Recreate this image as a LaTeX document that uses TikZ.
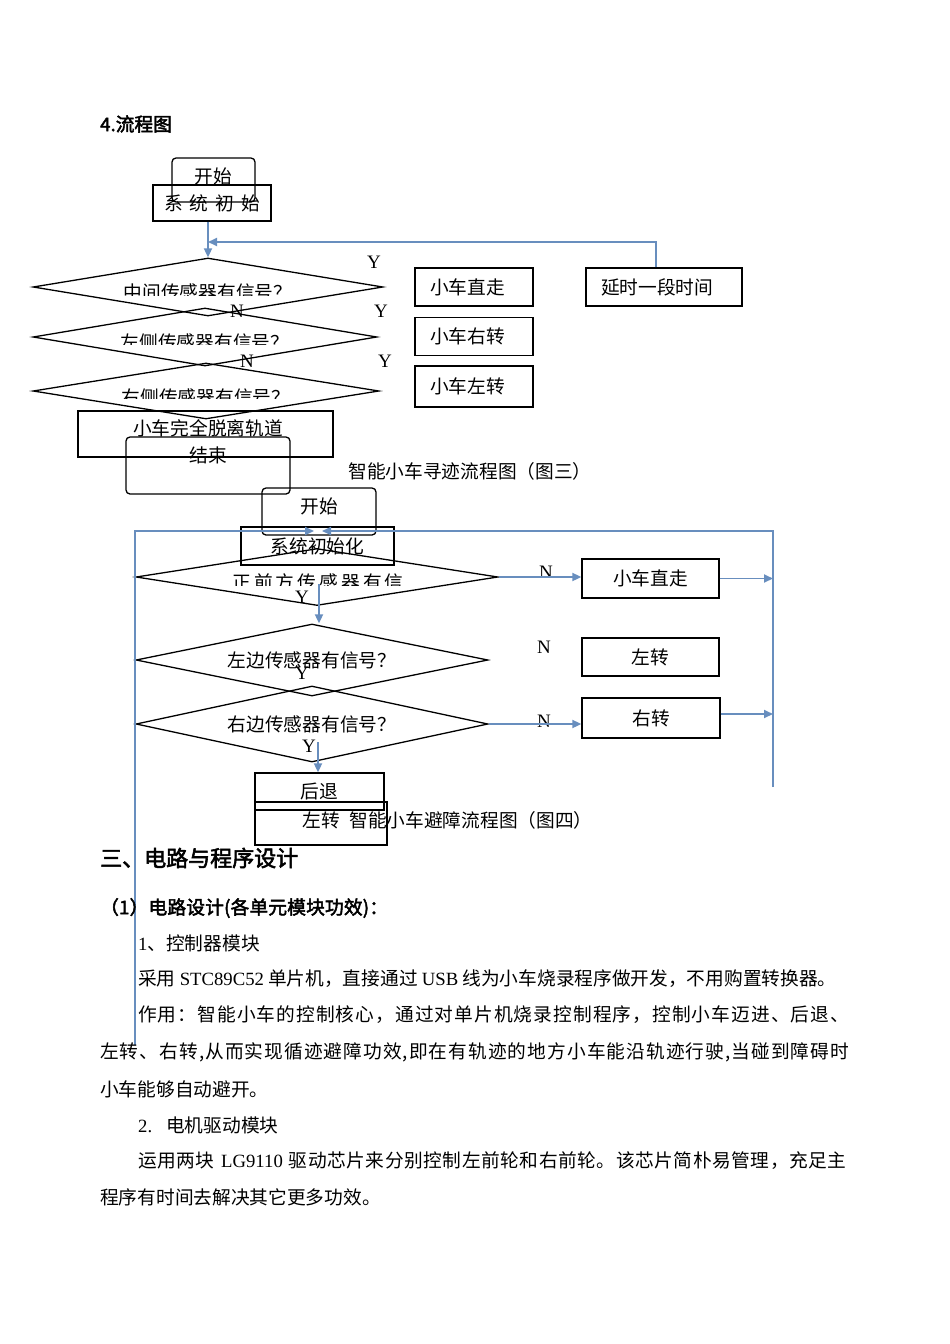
\documentclass[tikz,border=0pt]{standalone}
\usepackage{fontspec}
\setmainfont[AutoFakeBold=2.5]{Noto Sans CJK SC}
\newfontfamily\lat{Liberation Serif}
\usetikzlibrary{shapes.geometric,arrows.meta}
\definecolor{flowblue}{RGB}{104,142,190}
\newcommand\bodyfont{\fontsize{18.7}{22}\selectfont}
\newcommand\wgap{\hspace{7pt}}
\newcommand\fullline[2]{\makebox[#1][s]{#2}}
% put stretchable glue after every character
\def\spread#1{\spreadi#1\relax}
\def\spreadi#1{\ifx\relax#1\else#1\hskip0pt plus 1fil\relax\expandafter\spreadi\fi}

\begin{document}
\begin{tikzpicture}[x=1pt,y=-1pt,font=\bodyfont]
    \tikzstyle{box}=[draw,line width=1.3pt,inner sep=0pt]
    \tikzstyle{round box}=[box,rounded corners=4pt]
    \tikzstyle{decision}=[box,diamond,aspect=6]
    \tikzstyle{action}=[box,minimum height=38,text width=88,inner xsep=15,align=left]
    \tikzstyle{flow}=[draw=flowblue,line width=1.8pt,-{Triangle[length=9pt,width=8pt]}]
    \tikzstyle{yn}=[font=\lat\fontsize{19}{20}\selectfont,inner sep=0pt]
    \tikzstyle{para}=[anchor=west,inner sep=0pt]

    \useasboundingbox (0,0) rectangle (950,1344);

    % Heading
    \node[para,font=\bodyfont\bfseries] (head) at (100,124) {4.流程图};

    % Draw the tracking chart (fig. 3)
    \node[round box,minimum width=83,minimum height=44] (start1) at (213.5,180) {};
    \node (start1 text) at (213,176) {开始};
    \node[box,minimum width=118,minimum height=36] (init1) at (212,203) {系\wgap 统\wgap 初\wgap 始};
    \node[decision,minimum width=350,minimum height=58] (mid1) at (208,287) {};
    \node[decision,minimum width=344,minimum height=58] (left1) at (205,337) {};
    \node[decision,minimum width=346,minimum height=56] (right1) at (206,391) {};

    % The question texts are cut off at the bottom
    \begin{scope}
        \clip (0,0) rectangle (950,295);
        \node (mid1 text) at (208,292) {中间传感器有信号？};
    \end{scope}
    \begin{scope}
        \clip (0,0) rectangle (950,344);
        \node (left1 text) at (205,342) {左侧传感器有信号？};
    \end{scope}
    \begin{scope}
        \clip (0,0) rectangle (950,398);
        \node (right1 text) at (206,397) {右侧传感器有信号？};
    \end{scope}

    \node[box,minimum width=255,minimum height=46] (lost) at (205.5,434) {};
    \node (lost text) at (208,428) {小车完全脱离轨道};
    \node[round box,minimum width=164,minimum height=57] (end1) at (208,465.5) {};
    \node (end1 text) at (208,455) {结束};

    \node[action] (go1) at (474,287) {小车直走};
    \node[action] (turnR1) at (474,336.5) {小车右转};
    \node[action,minimum height=41] (turnL1) at (474,386.5) {小车左转};
    \node[action,text width=126] (delay) at (664,287) {延时一段时间};

    \node[yn] (y1) at (374,262) {Y};
    \node[yn] (y2) at (381,311) {Y};
    \node[yn] (y3) at (385,361) {Y};
    \node[yn] (n1) at (237,311) {N};
    \node[yn] (n2) at (247,361) {N};

    \coordinate (back1) at (208,242);
    \draw[flow] (init1.south -| mid1.north) -- (mid1.north);
    \draw[flow] ([xshift=-8pt]delay.north) |- (back1);

    \node (cap3) at (470,471) {智能小车寻迹流程图（图三）};

    % Draw the obstacle chart (fig. 4)
    \node[round box,minimum width=114,minimum height=47] (start2) at (319,511.5) {};
    \node (start2 text) at (319,506) {开始};
    \node[box,minimum width=153,minimum height=38] (init2) at (317.5,546) {系统初始化};
    \node[decision,minimum width=362,minimum height=57] (front) at (317,577) {};
    \begin{scope}
        \clip (0,0) rectangle (950,585);
        \node (front text) at (318,582) {正\,前\,方\,传\,感\,器\,有\,信};
    \end{scope}
    \node[decision,minimum width=352,minimum height=72] (leftS) at (312,660) {左边传感器有信号？};
    \node[decision,minimum width=352,minimum height=76] (rightS) at (312,724) {右边传感器有信号？};

    \node[box,minimum width=137,minimum height=39] (go2) at (650.5,578.5) {小车直走};
    \node[box,minimum width=137,minimum height=38] (turnL2) at (650.5,657) {左转};
    \node[box,minimum width=138,minimum height=40] (turnR2) at (651,718) {右转};
    \node[box,minimum width=129,minimum height=37] (back2) at (319.5,791.5) {后退};
    \node[box,minimum width=132,minimum height=43] (turnL3) at (321,823.5) {};
    \node (turnL3 text) at (321,820) {左转};

    \node[yn] (n3) at (546,572) {N};
    \node[yn] (n4) at (544,647) {N};
    \node[yn] (n5) at (544,721) {N};
    \node[yn] (y4) at (302,597) {Y};
    \node[yn] (y5) at (302,673) {Y};
    \node[yn] (y6) at (309,746) {Y};

    % Loop back to the start
    \coordinate (loopL) at (135,1045);
    \coordinate (loopR) at (773,787);
    \coordinate (topL) at (314,531);
    \coordinate (topR) at (322,531);
    \draw[flow] (loopL) |- (topL);
    \draw[flow] (loopR) |- (topR);

    \coordinate (frontY) at (319,584);
    \coordinate (rightY) at (318,742);
    \draw[flow] (front.east) -- (go2.west |- front.east);
    \draw[flow] (go2.east) -- (go2.east -| loopR);
    \draw[flow] (rightS.east) -- (turnR2.west |- rightS.east);
    \draw[flow] ([yshift=4pt]turnR2.east) -- ([yshift=4pt]turnR2.east -| loopR);
    \draw[flow] (frontY) -- (frontY |- leftS.north);
    \draw[flow] (rightY) -- (rightY |- back2.north);

    \node (cap4) at (471,820) {智能小车避障流程图（图四）};

    % Text of the page
    \node[para,font=\fontsize{22}{24}\selectfont\bfseries] (sec3) at (100,858) {三、电路与程序设计};
    \node[para,font=\bodyfont\bfseries] (sub1) at (100,908) {\fullline{288pt}{\spread{（1）电路设计(各单元模块功效)：}}};
    \node[para] (p1) at (138,943) {{\lat 1}、控制器模块};
    \node[para] (p2) at (138,979) {采用 {\lat STC89C52} 单片机，直接通过 {\lat USB} 线为小车烧录程序做开发，不用购置转换器。};
    \node[para] (p3) at (138,1015) {\fullline{712pt}{\spread{作用：智能小车的控制核心，通过对单片机烧录控制程序，控制小车迈进、后退、}}};
    \node[para] (p4) at (100,1052) {\fullline{750pt}{\spread{左转、右转,从而实现循迹避障功效,即在有轨迹的地方小车能沿轨迹行驶,当碰到障碍时}}};
    \node[para] (p5) at (100,1089) {小车能够自动避开。};
    \node[para] (p6) at (138,1125) {{\lat 2.}\hspace{14pt}电机驱动模块};
    \node[para] (p7) at (138,1161) {\fullline{709pt}{\spread{运用两块}\hskip 6pt{\lat LG9110}\hskip 6pt\spread{驱动芯片来分别控制左前轮和右前轮。该芯片简朴易管理，充足主}}};
    \node[para] (p8) at (100,1197) {程序有时间去解决其它更多功效。};
\end{tikzpicture}
\end{document}
